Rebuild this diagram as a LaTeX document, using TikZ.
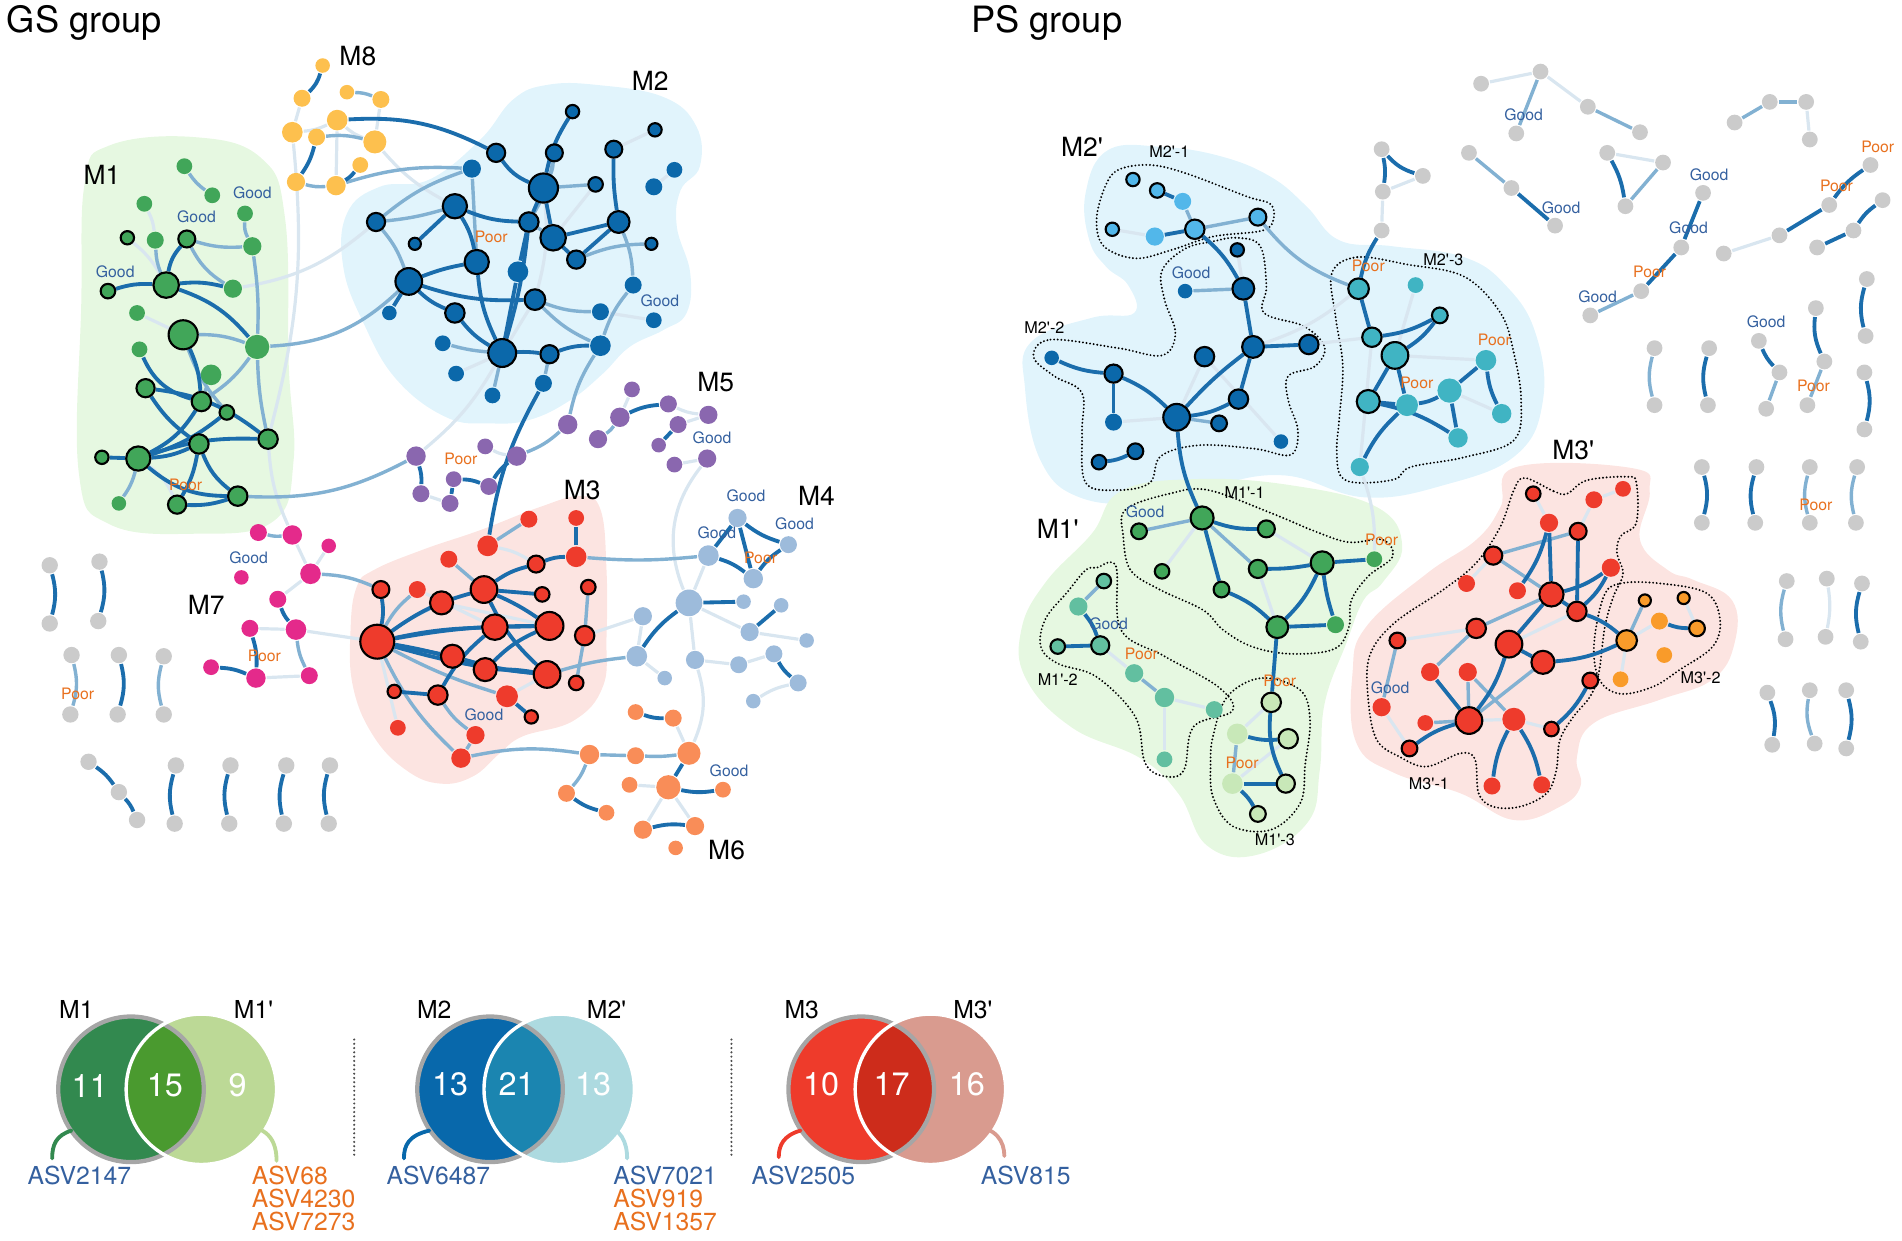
\documentclass[tikz,border=0pt]{standalone}
\usepackage{fontspec}
\setmainfont{TeX Gyre Heros}

\definecolor{cM1}{HTML}{41A659}
\definecolor{cM2}{HTML}{0B68AA}
\definecolor{cM3}{HTML}{EE3B2C}
\definecolor{cM4}{HTML}{9DBBDB}
\definecolor{cM5}{HTML}{8A67AF}
\definecolor{cM6}{HTML}{F98D58}
\definecolor{cM7}{HTML}{E42A8B}
\definecolor{cM8}{HTML}{FDC04E}
\definecolor{cGr}{HTML}{CBCBCB}
\definecolor{cLB}{HTML}{52B7EA}
\definecolor{cTl}{HTML}{40B4C3}
\definecolor{cTg}{HTML}{62BFA0}
\definecolor{cPg}{HTML}{C8E8B8}
\definecolor{cOr}{HTML}{F99B2A}
\definecolor{bgG}{HTML}{E6F8E1}
\definecolor{bgB}{HTML}{E1F4FC}
\definecolor{bgR}{HTML}{FCE4E1}
\definecolor{eD}{HTML}{1B6DAC}
\definecolor{eM}{HTML}{82B1D2}
\definecolor{eL}{HTML}{D9E6F0}
\definecolor{tGood}{HTML}{34609F}
\definecolor{tPoor}{HTML}{E8701E}
\definecolor{vAl}{HTML}{32894F}
\definecolor{vAo}{HTML}{4A9A2F}
\definecolor{vAr}{HTML}{BCD996}
\definecolor{vBl}{HTML}{0868AB}
\definecolor{vBo}{HTML}{1B85B0}
\definecolor{vBr}{HTML}{ADDAE0}
\definecolor{vCl}{HTML}{EE3B2B}
\definecolor{vCo}{HTML}{CD2C1B}
\definecolor{vCr}{HTML}{D99B8F}

\newcommand{\pq}{\textquotesingle}

\pgfdeclarelayer{blob}
\pgfdeclarelayer{link}
\pgfsetlayers{blob,link,main}

\tikzset{
  nd/.style={circle, inner sep=0pt, line width=0.5pt},
  lnkD/.style={draw=eD, line width=0.9pt},
  lnkM/.style={draw=eM, line width=0.8pt},
  lnkL/.style={draw=eL, line width=0.75pt},
  submod/.style={line width=0.5pt, dash pattern=on 0pt off 0.85pt, line cap=round},
  good/.style={font=\fontsize{3.7}{4.4}\selectfont, text=tGood, inner sep=0pt},
  poor/.style={font=\fontsize{3.7}{4.4}\selectfont, text=tPoor, inner sep=0pt},
  mlab/.style={font=\fontsize{6.2}{7.4}\selectfont, inner sep=0pt},
  slab/.style={font=\fontsize{3.8}{4.6}\selectfont, inner sep=0pt},
  ttl/.style={font=\fontsize{8.5}{10}\selectfont, inner sep=0pt, anchor=base west},
  vlab/.style={font=\fontsize{5.8}{7}\selectfont, inner sep=0pt},
  vnum/.style={font=\fontsize{7.6}{9}\selectfont, text=white, inner sep=0pt},
  asv/.style={font=\fontsize{5.8}{7}\selectfont, inner sep=0pt, anchor=west},
  vrim/.style={draw=black!35, line width=1pt},
}

\begin{document}
\begin{tikzpicture}[x=0.1mm, y=0.1mm, line cap=round]
\useasboundingbox (0,0) rectangle (1568,-1023);

\node[ttl] (gs) at (5,-27) {GS group};
\node[ttl] (ps) at (800,-27) {PS group};

% ---------- GS network ----------
\foreach \n/\x/\y/\s/\d in {a1/152/137/13/none, a2/175/161/13/none, a3/202/176/13/none,
    a4/119/168/13/none, a5/105/196/11/black, a6/128/198/14/none, a7/154/197/14/black,
    a8/208/203/15/none, a9/89/240/12/black, a10/137/235/21/black, a11/192/238/15/none,
    a12/113/258/13/none, a13/151/276/24/black, a14/212/286/20/none, a15/115/288/13/none,
    a16/174/309/17/none, a17/120/320/15/black, a18/166/331/16/black, a19/187/340/12/black,
    a20/221/362/16/black, a21/164/366/16/black, a22/84/377/11/black, a23/114/378/20/black,
    a24/98/415/12/none, a25/146/416/15/black, a26/196/409/16/black}
  \node[nd, fill=cM1, draw=\d, minimum size=\s*0.1mm] (\n) at (\x,-\y) {};

\foreach \n/\x/\y/\s in {h1/266/54/12, h2/249/81/14, h3/286/76/12, h4/314/82/14,
    h5/278/99/17, h6/241/109/17, h7/261/113/14, h8/309/117/19, h9/297/136/13,
    h10/244/150/15, h11/277/153/16}
  \node[nd, fill=cM8, minimum size=\s*0.1mm] (\n) at (\x,-\y) {};

\foreach \n/\x/\y/\s/\d in {b1/472/92/11/black, b2/540/107/11/black, b3/409/126/15/black,
    b4/457/126/14/black, b5/506/123/14/black, b6/389/139/15/none, b7/556/140/13/none,
    b8/448/155/24/black, b9/491/152/12/black, b10/539/154/14/none, b11/375/170/20/black,
    b12/310/183/15/black, b13/436/183/16/black, b14/510/183/18/black, b15/456/196/21/black,
    b16/342/201/10/black, b17/537/201/10/black, b18/475/214/15/black, b19/393/216/20/black,
    b20/427/224/17/none, b21/337/232/22/black, b22/522/235/14/none, b23/441/247/17/black,
    b24/321/258/12/none, b25/375/258/16/black, b26/495/257/14/none, b27/539/264/13/none,
    b28/365/283/13/none, b29/414/291/23/black, b30/453/292/15/black, b31/495/285/17/none,
    b32/376/308/13/none, b33/406/326/13/none, b34/448/316/14/none}
  \node[nd, fill=cM2, draw=\d, minimum size=\s*0.1mm] (\n) at (\x,-\y) {};

\foreach \n/\x/\y/\s in {e1/521/321/13, e2/551/333/14, e3/584/342/15, e4/511/344/16,
    e5/468/350/16, e6/559/350/14, e7/493/362/15, e8/543/367/12, e9/583/378/15,
    e10/556/383/13, e11/343/376/16, e12/400/368/13, e13/426/376/16, e14/347/407/14,
    e15/374/395/13, e16/403/401/14, e17/371/415/14}
  \node[nd, fill=cM5, minimum size=\s*0.1mm] (\n) at (\x,-\y) {};

\foreach \n/\x/\y/\s/\d in {c1/436/428/14/none, c2/475/427/13/none, c3/402/450/17/none,
    c4/475/459/17/none, c5/370/461/14/none, c6/442/465/14/black, c7/314/486/14/black,
    c8/344/486/14/none, c9/399/486/22/black, c10/447/490/12/black, c11/485/484/12/black,
    c12/364/497/19/black, c13/408/517/21/black, c14/453/516/23/black, c15/482/524/16/black,
    c16/311/529/28/black, c17/373/541/19/black, c18/400/552/19/black, c19/451/556/22/black,
    c20/475/563/12/black, c21/325/570/11/black, c22/361/573/16/black, c23/418/574/18/none,
    c24/438/591/11/black, c25/328/600/13/none, c26/392/606/15/none, c27/380/625/16/none}
  \node[nd, fill=cM3, draw=\d, minimum size=\s*0.1mm] (\n) at (\x,-\y) {};

\foreach \n/\x/\y/\s in {d1/608/427/15, d2/650/449/14, d3/584/458/17, d4/621/477/16,
    d5/568/497/22, d6/613/496/12, d7/644/499/12, d8/530/508/15, d9/618/521/15,
    d10/525/541/17, d11/573/544/15, d12/609/548/14, d13/638/539/14, d14/548/559/12,
    d15/658/563/14, d16/621/578/12, d17/665/528/12}
  \node[nd, fill=cM4, minimum size=\s*0.1mm] (\n) at (\x,-\y) {};

\foreach \n/\x/\y/\s in {f1/524/587/13, f2/555/592/14, f3/486/622/16, f4/524/623/14,
    f5/568/621/19, f6/519/647/13, f7/551/649/20, f8/596/651/13, f9/467/654/14,
    f10/500/670/13, f11/530/684/15, f12/573/681/15, f13/557/699/12}
  \node[nd, fill=cM6, minimum size=\s*0.1mm] (\n) at (\x,-\y) {};

\foreach \n/\x/\y/\s in {g1/213/439/14, g2/241/441/16, g3/271/450/12, g4/199/476/12,
    g5/256/473/17, g6/229/494/14, g7/206/518/14, g8/244/519/17, g9/174/550/13,
    g10/211/559/16, g11/255/557/14}
  \node[nd, fill=cM7, minimum size=\s*0.1mm] (\n) at (\x,-\y) {};

\foreach \n/\x/\y in {q1/41/466, q2/41/514, q3/82/463, q4/81/512, q5/59/540, q6/58/589,
    q7/98/540, q8/97/589, q9/135/541, q10/135/589, q11/73/628, q12/98/653, q13/113/676,
    q14/145/631, q15/144/679, q16/190/631, q17/189/679, q18/236/631, q19/234/679,
    q20/272/631, q21/271/679}
  \node[nd, fill=cGr, minimum size=1.35mm] (\n) at (\x,-\y) {};

% ---------- PS network ----------
\foreach \n/\x/\y/\s/\d in {r1/934/148/11/black, r2/954/157/12/black, r3/975/166/14/none,
    r4/917/189/11/black, r5/952/195/15/none, r6/985/189/16/black, r7/1037/179/14/black}
  \node[nd, fill=cLB, draw=\d, minimum size=\s*0.1mm] (\n) at (\x,-\y) {};

\foreach \n/\x/\y/\s/\d in {r8/1020/206/11/black, r9/977/240/12/none, r10/1025/238/18/black,
    r11/867/295/12/none, r12/918/308/15/black, r13/993/294/16/black, r14/1033/286/18/black,
    r15/1079/284/16/black, r16/1021/329/16/black, r17/918/348/14/none, r18/970/344/22/black,
    r19/1005/349/13/black, r20/1056/364/12/none, r21/936/372/13/black, r22/906/381/12/black}
  \node[nd, fill=cM2, draw=\d, minimum size=\s*0.1mm] (\n) at (\x,-\y) {};

\foreach \n/\x/\y/\s/\d in {r23/1120/238/17/black, r24/1167/235/13/none, r25/1187/260/13/black,
    r26/1131/278/16/black, r27/1150/293/22/black, r28/1225/297/17/none, r29/1128/331/19/black,
    r30/1160/334/18/none, r31/1195/322/20/none, r32/1238/341/16/none, r33/1202/361/16/none,
    r34/1121/385/15/none}
  \node[nd, fill=cTl, draw=\d, minimum size=\s*0.1mm] (\n) at (\x,-\y) {};

\foreach \n/\x/\y/\s/\d in {p1/939/438/13/black, p2/991/427/19/black, p3/1044/436/14/black,
    p4/958/471/12/black, p5/1037/469/15/black, p6/1090/464/19/black, p7/1133/461/13/none,
    p8/1007/486/13/black, p9/1053/517/18/black, p10/1101/515/14/none}
  \node[nd, fill=cM1, draw=\d, minimum size=\s*0.1mm] (\n) at (\x,-\y) {};

\foreach \n/\x/\y/\s/\d in {p11/910/479/12/black, p12/889/500/15/none, p13/872/533/12/black,
    p14/907/532/15/black, p15/935/555/15/none, p16/960/575/16/none, p17/1001/585/14/none,
    p18/960/626/13/none}
  \node[nd, fill=cTg, draw=\d, minimum size=\s*0.1mm] (\n) at (\x,-\y) {};

\foreach \n/\x/\y/\s/\d in {p19/1048/579/16/black, p20/1020/605/17/none, p21/1062/609/16/black,
    p22/1016/646/17/none, p23/1060/646/15/black, p24/1037/671/13/black}
  \node[nd, fill=cPg, draw=\d, minimum size=\s*0.1mm] (\n) at (\x,-\y) {};

\foreach \n/\x/\y/\s/\d in {s1/1264/407/12/black, s2/1314/412/14/none, s3/1338/403/13/none,
    s4/1277/431/15/none, s5/1301/438/14/black, s6/1231/458/15/black, s7/1328/468/15/none,
    s8/1209/481/14/none, s9/1251/487/14/none, s10/1279/490/20/black, s11/1300/504/16/black,
    s12/1217/518/16/black, s13/1152/528/13/black, s14/1244/531/22/black, s15/1272/546/19/black,
    s16/1179/554/15/none, s17/1210/554/15/none, s18/1311/561/13/black, s19/1139/583/15/none,
    s20/1175/596/13/none, s21/1211/594/22/black, s22/1248/593/19/none, s23/1279/601/12/black,
    s24/1162/617/13/black, s25/1230/648/14/none, s26/1271/647/14/none}
  \node[nd, fill=cM3, draw=\d, minimum size=\s*0.1mm] (\n) at (\x,-\y) {};

\foreach \n/\x/\y/\s/\d in {u1/1356/495/10/black, u2/1388/493/10/black, u3/1368/512/14/none,
    u4/1399/518/13/black, u5/1341/528/17/black, u6/1372/540/13/none, u7/1336/560/13/none}
  \node[nd, fill=cOr, draw=\d, minimum size=\s*0.1mm] (\n) at (\x,-\y) {};

\foreach \n/\x/\y in {t1/1139/123, t2/1173/145, t3/1140/158, t4/1139/190,
    t5/1221/69, t6/1270/59, t7/1250/110, t8/1309/88, t9/1352/109,
    t10/1211/126, t11/1246/155, t12/1282/186, t13/1325/126, t14/1371/134, t15/1340/170,
    t16/1430/101, t17/1459/84, t18/1489/84, t19/1492/115,
    t20/1404/159, t21/1386/204, t22/1353/240, t23/1311/260,
    t24/1421/209, t25/1467/194, t26/1508/169, t27/1542/136,
    t28/1498/204, t29/1528/190, t30/1552/165, t31/1539/230, t32/1538/277,
    t33/1497/254, t34/1504/298, t35/1490/334, t36/1450/281, t37/1467/307, t38/1456/337,
    t39/1364/287, t40/1364/334, t41/1409/287, t42/1408/334, t43/1537/307, t44/1537/354,
    t45/1403/385, t46/1403/431, t47/1448/385, t48/1447/431, t49/1492/385, t50/1492/431,
    t51/1531/385, t52/1530/431, t53/1473/479, t54/1472/527, t55/1506/477, t56/1505/525,
    t57/1535/481, t58/1534/529, t59/1457/571, t60/1461/614, t61/1492/569, t62/1496/613,
    t63/1522/569, t64/1522/617}
  \node[nd, fill=cGr, minimum size=1.3mm] (\n) at (\x,-\y) {};

% labels
\foreach \n/\x/\y in {gd1/208/159, gd2/162/179, gd3/95/224, gd4/544/248, gd5/587/361,
    gd6/615/409, gd7/655/432, gd8/591/439, gd9/399/589, gd10/601/635, gd11/205/460,
    gd12/1256/95, gd13/1287/171, gd14/1409/144, gd15/1392/188, gd16/1317/245,
    gd17/1456/265, gd18/982/225, gd19/944/422, gd20/914/514, gd21/1146/567}
  \node[good] (\n) at (\x,-\y) {Good};
\foreach \n/\x/\y in {pr1/153/400, pr2/405/195, pr3/380/378, pr4/627/460, pr5/218/541,
    pr6/64/572, pr7/1360/224, pr8/1514/153, pr9/1548/121, pr10/1495/318, pr11/1497/416,
    pr12/1128/219, pr13/1232/280, pr14/1168/316, pr15/1139/445, pr16/941/539,
    pr17/1055/561, pr18/1024/629}
  \node[poor] (\n) at (\x,-\y) {Poor};

\foreach \n/\x/\y/\t in {ml1/84/144/M1, ml8/295/46/M8, ml2/536/67/M2, ml5/590/315/M5,
    ml4/673/409/M4, ml3/480/404/M3, ml7/170/499/M7, ml6/599/701/M6,
    ml9/892/121/M2\pq, ml10/872/436/M1\pq, ml11/1297/371/M3\pq}
  \node[mlab] (\n) at (\x,-\y) {\t};
\foreach \n/\x/\y/\t in {sl1/964/125/M2\pq-1, sl2/861/270/M2\pq-2, sl3/1190/214/M2\pq-3,
    sl4/1026/406/M1\pq-1, sl5/872/560/M1\pq-2, sl6/1051/692/M1\pq-3,
    sl7/1178/646/M3\pq-1, sl8/1402/559/M3\pq-2}
  \node[slab] (\n) at (\x,-\y) {\t};

% links
\begin{pgfonlayer}{link}
\foreach \a/\b/\g in {a4/a6/10, a5/a10/10, a12/a13/0, a23/a25/15, a11/b12/-15, h6/a20/10,
    a20/g2/-10, h5/h6/10, h5/h8/-10, h2/h6/0, h5/h11/0, h4/h8/0, h8/b11/-10, b23/b29/0,
    b26/b27/0, b2/b5/0, b7/b10/0, b32/b29/0, b8/b23/10, b9/b15/0, b29/e11/10, e14/e17/0,
    e13/e12/10, e2/e3/-10, e6/e3/0, e9/e10/0, e1/e4/0, c16/c25/0, c12/c14/0, c3/c6/10,
    c8/c13/0, c23/c19/0, c16/g8/0, c15/d8/0, d3/d5/0, d5/d9/0, d5/d11/0, d8/d10/0,
    d10/d14/0, d11/d12/0, d12/d13/0, d15/d16/-10, d9/d17/0, d5/e9/30, d11/f5/20, f2/f5/0,
    f6/f7/0, f7/f11/0, f7/f12/0, g2/g5/0, g3/g5/0, g5/g6/0, g7/g8/0, g10/g11/0,
    r4/r5/0, r17/r18/0, r13/r18/0, r13/r20/0, r8/r10/0, r27/r28/0, r15/r26/0, r24/r27/0,
    r14/r23/-10, r34/p7/10, r26/r34/0, r31/r32/0, t2/t3/0, t3/t4/0, p3/p6/0, p5/p9/0,
    p4/p2/0, p14/p15/0, p16/p17/0, p16/p18/0, p19/p20/0, p21/p22/0, s1/s4/0, s2/s3/0,
    s2/s5/0, s6/s8/0, s13/s12/0, s21/s22/0, s22/s23/0, s19/s24/0, s14/s11/0, u5/u3/0,
    u2/u4/0, u5/u7/0, t5/t6/0, t6/t8/0, t13/t14/0, t18/t19/0, t24/t25/0, t55/t56/10}
  \draw[lnkL] (\a) to[bend left=\g] (\b);
\foreach \a/\b/\g in {a1/a2/-10, a6/a10/-10, a7/a8/-10, a7/a11/-15, a3/a8/-15, a8/a14/5,
    a13/a14/10, a13/a19/-10, a14/a18/10, a14/a20/-5, a23/a24/10, a16/a18/0, a14/b21/-20,
    a26/e11/-15, h3/h4/10, h7/h8/10, h10/h11/-10, h11/b6/10, b4/b8/10, b8/b9/0,
    b18/b17/10, b6/b12/-10, b12/b11/-5, b12/b21/10, b6/b19/0, b14/b22/10, b22/b31/-10,
    b23/b26/-10, b28/b29/-5, b33/b29/0, b34/b30/0, b13/b15/0, b23/b31/-10, b4/b13/10,
    b31/e5/-10, e13/e5/-10, e7/e4/-10, c16/c12/5, c16/c8/10, c16/c23/-5, c16/c27/-10,
    c3/c1/0, c11/c15/0, c15/c20/0, c22/c26/-10, c26/c27/0, c5/c9/0, c4/d3/-5, c19/d10/5,
    c27/f3/10, c7/g5/-10, f3/f4/0, f4/f5/-5, f3/f9/10, g1/g2/-10, g8/g11/-10, q5/q6/15,
    q9/q10/-15, r3/r6/0, r6/r7/0, r9/r10/0, r18/r19/0, r7/r23/-15, p1/p2/0, p2/p5/0,
    p11/p12/0, p15/p16/0, p20/p22/0, s6/s5/0, s6/s10/0, s12/s10/0, s13/s19/0, s12/s16/0,
    s17/s21/0, s20/s21/0, s17/s22/0, s21/s15/0, u1/u5/0, t6/t7/0, t8/t9/0, t10/t11/0,
    t14/t15/0, t16/t17/0, t17/t18/0, t22/t23/0, t34/t35/0, t37/t38/0, t39/t40/-15,
    t49/t50/-15, t51/t52/-15, t53/t54/-15, t61/t62/-15}
  \draw[lnkM] (\a) to[bend left=\g] (\b);
\foreach \a/\b/\g in {a7/a10/-15, a9/a10/10, a10/a11/10, a10/a14/15, a13/a18/10, a15/a18/-25,
    a17/a20/15, a17/a21/-10, a23/a18/-15, a23/a19/-10, a23/a20/10, a23/a21/-10, a23/a22/0,
    a23/a26/-20, a21/a25/10, a21/a26/-15, a25/a26/-10, h1/h2/15, h7/h10/10, h11/h9/-10,
    h5/b3/15, b1/b8/-10, b3/b8/-15, b5/b14/-5, b11/b13/-10, b11/b16/0, b11/b19/10, b13/b8/0,
    b15/b14/0, b18/b14/0, b18/b15/0, b21/b19/5, b21/b24/0, b21/b25/-10, b25/b29/-10,
    b29/b30/5, b30/b31/10, b13/b29/5, b19/b29/-10, b23/b21/10, b8/b15/0, b20/b13/0,
    b20/b29/0, b34/c3/-10, e11/e14/10, e15/e17/0, e15/e16/10, e16/e13/10, e4/e2/10,
    e6/e8/0, c16/c18/5, c16/c19/-5, c16/c13/5, c16/c17/0, c16/c9/10, c16/c14/5, c16/c7/-10,
    c9/c14/5, c9/c19/-10, c9/c6/10, c6/c4/10, c4/c2/0, c10/c9/0, c13/c14/0, c17/c19/-5,
    c18/c19/5, c22/c21/0, c22/c13/10, c23/c24/0, c14/c18/-10, d1/d3/0, d1/d2/-10, d1/d4/0,
    d3/d4/10, d2/d4/-10, d5/d10/-10, d5/d6/0, d7/d9/0, d13/d15/-10, f1/f2/-10, f5/f7/0,
    f7/f8/-10, f9/f10/-10, f11/f12/10, g6/g8/-10, g7/g10/10, g9/g10/10, q1/q2/15, q3/q4/15,
    q7/q8/15, q11/q12/10, q12/q13/10, q14/q15/-15, q16/q17/-15, q18/q19/-15, q20/q21/-15,
    r2/r3/0, r5/r6/0, r6/r10/10, r10/r14/0, r14/r15/0, r14/r16/0, r14/r18/-5, r11/r12/-10,
    r12/r17/0, r12/r18/10, r18/r16/-10, r21/r22/10, r23/r26/0, r26/r25/-10, r27/r25/-10,
    r27/r29/0, r27/r30/0, r30/r31/-10, r31/r28/0, r28/r32/-10, r31/r33/0, r29/r30/0,
    r29/r33/10, r30/r34/-10, r18/p2/-10, t1/t3/10, t1/t2/-15, t4/r23/-10, p2/p3/-10,
    p2/p8/0, p5/p6/-5, p6/p7/0, p6/p9/10, p6/p10/-5, p8/p9/10, p9/p10/0, p9/p19/0,
    p12/p14/10, p13/p14/0, p20/p21/-10, p19/p23/-15, p22/p23/0, p22/p24/10, s4/s10/0,
    s4/s9/10, s5/s11/0, s10/s7/-10, s11/s7/-10, s10/s11/0, s10/s14/0, s11/u5/10,
    s14/s15/0, s14/s21/10, s15/u5/-10, s16/s21/0, s21/s24/-10, s22/s25/-10, s22/s26/10,
    s23/s18/-10, u3/u4/-10, t11/t12/0, t13/t15/10, t20/t21/0, t21/t22/0, t25/t26/0,
    t26/t27/10, t28/t29/0, t29/t30/10, t31/t32/-15, t33/t34/-15, t36/t37/-10, t41/t42/-15,
    t43/t44/15, t45/t46/15, t47/t48/-15, t57/t58/-15, t59/t60/15, t63/t64/15}
  \draw[lnkD] (\a) to[bend left=\g] (\b);
\end{pgfonlayer}

% module areas
\begin{pgfonlayer}{blob}
\fill[bgG] plot[smooth cycle, tension=0.7] coordinates {(90,-120) (160,-113) (215,-130)
  (235,-180) (238,-300) (242,-380) (225,-430) (160,-440) (90,-432) (65,-390) (67,-250) (70,-150)};
\fill[bgB] plot[smooth cycle, tension=0.7] coordinates {(451,-70) (492,-70) (547,-80)
  (574,-104) (577,-137) (561,-157) (558,-187) (569,-225) (566,-258) (547,-272) (519,-286)
  (497,-308) (470,-330) (437,-346) (404,-349) (368,-344) (327,-313) (300,-267) (283,-220)
  (286,-176) (313,-154) (354,-148) (396,-115) (423,-82)};
\fill[bgR] plot[smooth cycle, tension=0.7] coordinates {(308,-470) (349,-453) (396,-437)
  (445,-418) (478,-409) (495,-420) (500,-470) (500,-525) (497,-566) (473,-594) (431,-607)
  (412,-621) (390,-640) (363,-646) (335,-635) (308,-607) (291,-566) (289,-519) (294,-484)};
\fill[bgB] plot[smooth cycle, tension=0.7] coordinates {(913,-124) (957,-121) (1007,-129)
  (1048,-146) (1077,-170) (1104,-198) (1148,-203) (1207,-212) (1242,-236) (1266,-275)
  (1272,-330) (1250,-375) (1190,-400) (1125,-410) (1060,-392) (1001,-400) (945,-414)
  (890,-410) (858,-380) (845,-320) (850,-282) (900,-262) (935,-258) (930,-235) (912,-220)
  (898,-198) (895,-159)};
\fill[bgG] plot[smooth cycle, tension=0.7] coordinates {(924,-405) (984,-395) (1064,-400)
  (1135,-418) (1156,-450) (1140,-480) (1124,-495) (1110,-530) (1092,-580) (1088,-635)
  (1078,-678) (1035,-705) (995,-697) (972,-655) (940,-625) (884,-600) (846,-560)
  (842,-519) (862,-480) (900,-440)};
\fill[bgR] plot[smooth cycle, tension=0.7] coordinates {(1250,-385) (1346,-386) (1360,-405)
  (1352,-445) (1375,-470) (1396,-478) (1428,-495) (1430,-530) (1412,-560) (1368,-577)
  (1314,-596) (1300,-624) (1303,-648) (1286,-665) (1248,-676) (1204,-654) (1149,-637)
  (1118,-612) (1115,-555) (1126,-517) (1176,-473) (1217,-445) (1237,-418)};
\draw[submod] plot[smooth cycle, tension=0.6] coordinates {(922,-140) (948,-136) (978,-143)
  (1028,-162) (1047,-168) (1050,-180) (1041,-190) (1000,-195) (966,-206) (936,-213)
  (910,-203) (904,-181) (911,-154)};
\draw[submod] plot[smooth cycle, tension=0.6] coordinates {(852,-294) (866,-280) (922,-287)
  (958,-293) (969,-275) (960,-247) (958,-223) (977,-205) (1000,-199) (1020,-196) (1039,-203)
  (1044,-236) (1042,-258) (1075,-269) (1092,-286) (1084,-302) (1062,-310) (1062,-330)
  (1070,-355) (1064,-375) (1035,-370) (989,-367) (957,-376) (948,-398) (922,-404)
  (895,-398) (892,-357) (892,-324) (869,-310)};
\draw[submod] plot[smooth cycle, tension=0.6] coordinates {(1098,-225) (1119,-212)
  (1160,-218) (1207,-228) (1237,-258) (1248,-291) (1254,-330) (1248,-363) (1207,-377)
  (1163,-385) (1150,-395) (1120,-398) (1105,-392) (1102,-370) (1104,-346) (1107,-302)
  (1101,-261)};
\draw[submod] plot[smooth cycle, tension=0.6] coordinates {(928,-420) (964,-407) (996,-404)
  (1048,-423) (1084,-438) (1112,-447) (1140,-445) (1148,-459) (1128,-475) (1114,-495)
  (1112,-517) (1100,-535) (1064,-539) (1032,-533) (1008,-519) (992,-503) (956,-486)
  (932,-470) (926,-442)};
\draw[submod] plot[smooth cycle, tension=0.6] coordinates {(904,-468) (920,-467) (924,-519)
  (960,-541) (1004,-566) (1016,-586) (984,-599) (976,-635) (960,-640) (944,-629) (936,-591)
  (904,-558) (872,-547) (858,-533) (862,-510) (880,-488) (895,-470)};
\draw[submod] plot[smooth cycle, tension=0.6] coordinates {(1040,-559) (1072,-569)
  (1080,-594) (1076,-630) (1072,-662) (1048,-684) (1016,-681) (1000,-657) (998,-630)
  (1000,-607) (1012,-574)};
\draw[submod] plot[smooth cycle, tension=0.6] coordinates {(1257,-394) (1281,-405)
  (1292,-407) (1308,-396) (1341,-393) (1349,-398) (1349,-431) (1336,-442) (1333,-456)
  (1338,-473) (1330,-492) (1323,-517) (1318,-555) (1311,-574) (1297,-591) (1286,-610)
  (1283,-635) (1275,-654) (1253,-665) (1231,-665) (1219,-654) (1216,-626) (1204,-621)
  (1176,-632) (1154,-624) (1135,-610) (1128,-577) (1129,-541) (1149,-514) (1190,-486)
  (1217,-464) (1237,-434) (1248,-404)};
\draw[submod] plot[smooth cycle, tension=0.6] coordinates {(1322,-492) (1336,-481)
  (1369,-481) (1407,-489) (1418,-511) (1412,-533) (1385,-552) (1363,-566) (1336,-572)
  (1319,-561) (1314,-533)};
\end{pgfonlayer}

% ---------- Venn diagrams ----------
% M1 / M1'
\fill[vAl] (108,-898) circle[radius=6mm];
\fill[vAr] (166,-898) circle[radius=6.2mm];
\begin{scope}
  \clip (108,-898) circle[radius=6mm];
  \fill[vAo] (166,-898) circle[radius=6.2mm];
\end{scope}
\draw[vrim] (108,-898) circle[radius=6mm];
\draw[white, line width=0.8pt] (166,-898) circle[radius=6.2mm];
% M2 / M2'
\fill[vBl] (404,-898) circle[radius=6mm];
\fill[vBr] (461,-898) circle[radius=6.2mm];
\begin{scope}
  \clip (404,-898) circle[radius=6mm];
  \fill[vBo] (461,-898) circle[radius=6.2mm];
\end{scope}
\draw[vrim] (404,-898) circle[radius=6mm];
\draw[white, line width=0.8pt] (461,-898) circle[radius=6.2mm];
% M3 / M3'
\fill[vCl] (710,-898) circle[radius=6mm];
\fill[vCr] (767,-898) circle[radius=6.2mm];
\begin{scope}
  \clip (710,-898) circle[radius=6mm];
  \fill[vCo] (767,-898) circle[radius=6.2mm];
\end{scope}
\draw[vrim] (710,-898) circle[radius=6mm];
\draw[white, line width=0.8pt] (767,-898) circle[radius=6.2mm];

\draw[black!70, dash pattern=on 0pt off 1pt, line width=0.55pt] (292,-857) -- (292,-954);
\draw[black!70, dash pattern=on 0pt off 1pt, line width=0.55pt] (603,-857) -- (603,-954);

\foreach \n/\x/\y/\t in {va1/63/832/M1, va2/209/832/M1\pq, vb1/358/832/M2, vb2/500/832/M2\pq,
    vc1/661/832/M3, vc2/802/832/M3\pq}
  \node[vlab] (\n) at (\x,-\y) {\t};
\foreach \n/\x/\y/\t in {na1/74/895/11, na2/136/895/15, na3/196/895/9, nb1/371/894/13,
    nb2/426/894/21, nb3/489/894/13, nc1/677/894/10, nc2/735/894/17, nc3/797/894/16}
  \node[vnum] (\n) at (\x,-\y) {\t};

\node[asv, text=tGood] (asvA) at (22,-969) {ASV2147};
\node[asv, text=tPoor] (asvB) at (207,-969) {ASV68};
\node[asv, text=tPoor] (asvC) at (207,-988) {ASV4230};
\node[asv, text=tPoor] (asvD) at (207,-1007) {ASV7273};
\node[asv, text=tGood] (asvE) at (318,-969) {ASV6487};
\node[asv, text=tGood] (asvF) at (505,-969) {ASV7021};
\node[asv, text=tPoor] (asvG) at (505,-988) {ASV919};
\node[asv, text=tPoor] (asvH) at (505,-1007) {ASV1357};
\node[asv, text=tGood] (asvI) at (619,-969) {ASV2505};
\node[asv, text=tGood] (asvJ) at (808,-969) {ASV815};

\coordinate (ka1) at (59,-932);  \coordinate (ka2) at (43,-955);
\coordinate (kb1) at (202,-929); \coordinate (kb2) at (228,-957);
\coordinate (kc1) at (354,-932); \coordinate (kc2) at (333,-955);
\coordinate (kd1) at (497,-929); \coordinate (kd2) at (517,-955);
\coordinate (ke1) at (660,-932); \coordinate (ke2) at (642,-954);
\coordinate (kf1) at (802,-929); \coordinate (kf2) at (828,-953);
\draw[vAl, line width=0.9pt] (ka1) .. controls (46,-936) and (43,-944) .. (ka2);
\draw[vAr, line width=0.9pt] (kb1) .. controls (222,-929) and (228,-942) .. (kb2);
\draw[vBl, line width=0.9pt] (kc1) .. controls (337,-936) and (333,-944) .. (kc2);
\draw[vBr, line width=0.9pt] (kd1) .. controls (512,-929) and (517,-942) .. (kd2);
\draw[vCl, line width=0.9pt] (ke1) .. controls (646,-936) and (642,-944) .. (ke2);
\draw[vCr, line width=0.9pt] (kf1) .. controls (821,-929) and (828,-941) .. (kf2);
\end{tikzpicture}
\end{document}
